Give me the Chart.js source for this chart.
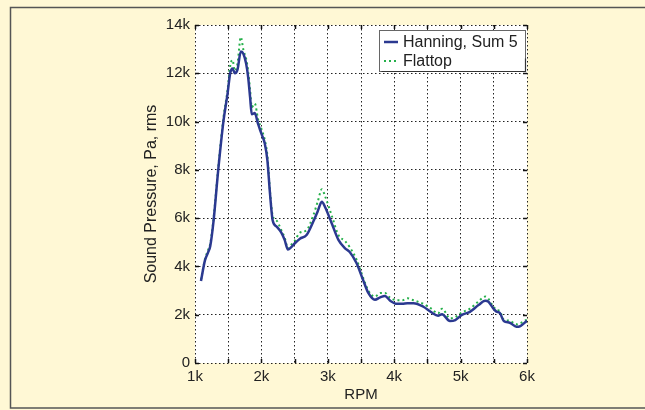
<!DOCTYPE html>
<html>
<head>
<meta charset="utf-8">
<script src="https://cdn.jsdelivr.net/npm/chart.js@4/dist/chart.umd.min.js"></script>
<style>
  html, body { margin: 0; padding: 0; background: #FFF8D5; }
  canvas { display: block; }
</style>
</head>
<body>
<canvas id="c" width="645" height="410"></canvas>
<script>
// ---- data ----
const rpm = [1090,1150,1200,1230,1280,1350,1430,1490,1530,1565,1600,1640,1690,1730,1770,1800,1830,1855,1900,1950,2000,2050,2090,2130,2170,2230,2300,2350,2400,2450,2500,2580,2680,2780,2850,2910,2960,3060,3160,3260,3330,3430,3530,3610,3710,3790,3860,3940,4040,4120,4200,4290,4440,4560,4660,4720,4840,4920,5020,5140,5270,5370,5420,5490,5540,5590,5650,5740,5840,5900,6000];
const hanning = [3400,4250,4600,4850,5900,8000,10050,11150,12000,12200,12000,12150,12900,12800,12400,11850,11000,10300,10350,9900,9500,9100,8400,7000,5900,5650,5400,5100,4700,4800,4950,5150,5300,5850,6300,6680,6450,5780,5100,4750,4600,4150,3450,2900,2620,2720,2780,2580,2450,2450,2480,2480,2330,2100,1960,2020,1740,1780,1990,2120,2400,2580,2540,2270,2130,2080,1740,1670,1500,1530,1750];
const flattop = [3450,4300,4700,4950,6000,8100,10200,11300,12300,12550,12100,12400,13500,12950,12600,12100,11300,10600,10750,10100,9700,9250,8600,7100,6100,5900,5500,5200,4750,4900,5050,5400,5500,6100,6700,7200,6900,6100,5300,5050,4800,4300,3550,3000,2750,2900,2900,2700,2600,2600,2680,2600,2450,2250,2050,2250,1850,1900,2100,2250,2550,2750,2650,2350,2200,2150,1800,1750,1600,1650,1800];
const seriesNames = ["Hanning, Sum 5", "Flattop"];
const xTitle = "RPM";
const yTitle = "Sound Pressure, Pa, rms";

const toPts = (ys) => rpm.map((x, i) => ({ x: x, y: ys[i] }));
const kfmt = (v) => v === 0 ? "0" : (v / 1000) + "k";

const FONT = "'Liberation Sans', Arial, Helvetica, sans-serif";
const TXT = "#222222";

const decor = {
  id: "decor",
  beforeDraw(chart) {
    const ctx = chart.ctx, a = chart.chartArea;
    ctx.save();
    ctx.fillStyle = "#FFF8D5";
    ctx.fillRect(0, 0, chart.width, chart.height);
    ctx.strokeStyle = "#555555";
    ctx.lineWidth = 1.5;
    ctx.beginPath();
    ctx.moveTo(650, 7.5); ctx.lineTo(10.5, 7.5); ctx.lineTo(10.5, 408); ctx.lineTo(650, 408);
    ctx.stroke();
    ctx.fillStyle = "#FFFFFF";
    ctx.fillRect(a.left, a.top, a.right - a.left, a.bottom - a.top);
    ctx.restore();
  },
  afterDraw(chart) {
    const ctx = chart.ctx, a = chart.chartArea;
    const xs = chart.scales.x, ys = chart.scales.y;
    ctx.save();
    // tick marks (inward)
    ctx.strokeStyle = "#111";
    ctx.lineWidth = 1.5;
    ctx.beginPath();
    for (let v = 1000; v <= 6000; v += 500) {
      const px = Math.round(xs.getPixelForValue(v)) + 0.5;
      ctx.moveTo(px, a.bottom); ctx.lineTo(px, a.bottom - 4);
      ctx.moveTo(px, a.top); ctx.lineTo(px, a.top + 4);
    }
    for (let v = 0; v <= 14000; v += 2000) {
      const py = Math.round(ys.getPixelForValue(v)) + 0.5;
      ctx.moveTo(a.left, py); ctx.lineTo(a.left + 4, py);
      ctx.moveTo(a.right, py); ctx.lineTo(a.right - 4, py);
    }
    ctx.stroke();

    // axis titles
    ctx.fillStyle = TXT;
    ctx.textAlign = "center";
    ctx.textBaseline = "middle";
    ctx.font = "15px " + FONT;
    ctx.fillText(xTitle, (a.left + a.right) / 2, 395);
    ctx.save();
    ctx.translate(152, (a.top + a.bottom) / 2);
    ctx.rotate(-Math.PI / 2);
    ctx.font = "16px " + FONT;
    ctx.fillText(yTitle, 0, 0);
    ctx.restore();

    // legend
    const lx = 379.5, ly = 30.5, lw = 146, lh = 41;
    ctx.fillStyle = "#FFFFFF";
    ctx.fillRect(lx, ly, lw, lh);
    ctx.strokeStyle = "#666";
    ctx.lineWidth = 1;
    ctx.strokeRect(lx, ly, lw, lh);
    ctx.strokeStyle = "#333";
    ctx.lineWidth = 1.2;
    ctx.beginPath();
    ctx.moveTo(lx + lw, ly + 28); ctx.lineTo(lx + lw, ly + lh); ctx.lineTo(lx + 2, ly + lh);
    ctx.stroke();
    const ds = chart.data.datasets;
    const rows = [42, 61];
    ds.forEach((d, i) => {
      ctx.strokeStyle = d.borderColor;
      ctx.lineWidth = d.borderWidth;
      ctx.setLineDash(d.borderDash || []);
      ctx.beginPath();
      ctx.moveTo(384, rows[i]); ctx.lineTo(398, rows[i]);
      ctx.stroke();
      ctx.setLineDash([]);
      ctx.fillStyle = TXT;
      ctx.textAlign = "left";
      ctx.textBaseline = "middle";
      ctx.font = "16px " + FONT;
      ctx.fillText(d.label, 403, rows[i] + 1);
    });
    ctx.restore();
  }
};

new Chart(document.getElementById("c"), {
  type: "line",
  data: {
    datasets: [
      { label: seriesNames[0], data: toPts(hanning), borderColor: "#2B3990", borderWidth: 2.5,
        pointRadius: 0, fill: false, tension: 0.3, cubicInterpolationMode: "monotone" },
      { label: seriesNames[1], data: toPts(flattop), borderColor: "#25B04A", borderWidth: 2,
        borderDash: [2, 3], pointRadius: 0, fill: false, tension: 0.3, cubicInterpolationMode: "monotone" }
    ]
  },
  options: {
    responsive: false,
    devicePixelRatio: 1,
    animation: false,
    layout: { padding: { top: 25, right: 118, left: 0, bottom: 0 } },
    plugins: { legend: { display: false }, tooltip: { enabled: false } },
    scales: {
      x: {
        type: "linear", min: 1000, max: 6000,
        afterFit(s) { s.height = 47; },
        ticks: { stepSize: 500, autoSkip: false, maxRotation: 0, padding: 5,
          color: TXT, font: { family: FONT, size: 15 },
          callback: (v) => (v % 1000 === 0 ? kfmt(v) : "") },
        grid: { color: "#222", lineWidth: 1, drawTicks: false },
        border: { display: false, dash: [1.5, 2.5] }
      },
      y: {
        type: "linear", min: 0, max: 14000,
        afterFit(s) { s.width = 195; },
        ticks: { stepSize: 2000, padding: 5, color: TXT, font: { family: FONT, size: 15 },
          callback: (v) => kfmt(v) },
        grid: { color: "#222", lineWidth: 1, drawTicks: false },
        border: { display: false, dash: [1.5, 2.5] }
      }
    }
  },
  plugins: [decor]
});
</script>
</body>
</html>
